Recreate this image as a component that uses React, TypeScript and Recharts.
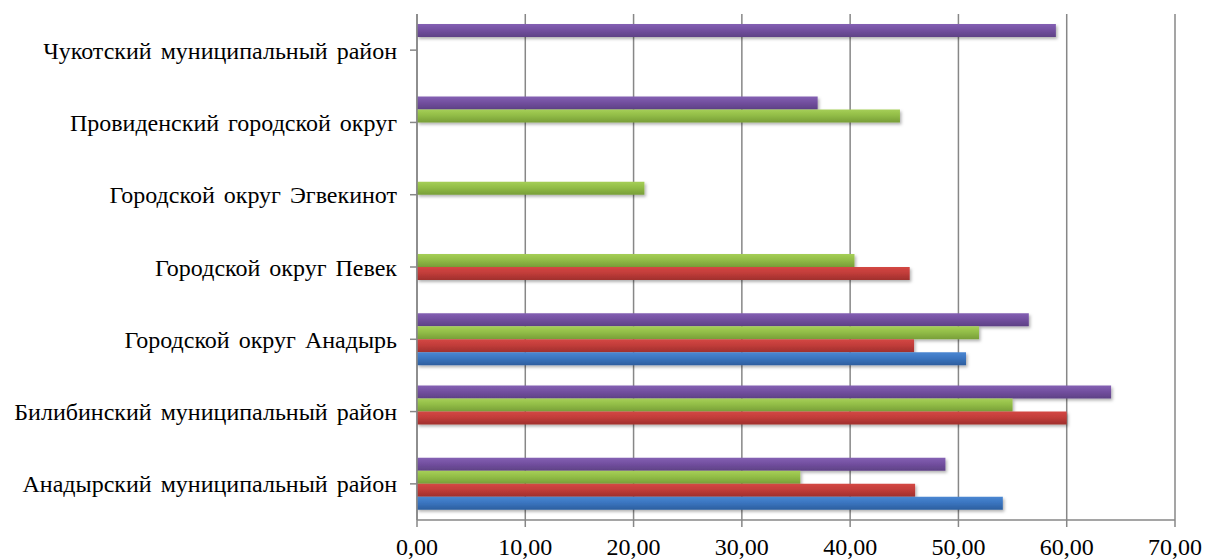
import { BarChart, Bar, XAxis, YAxis, CartesianGrid } from 'recharts';

// districts, top to bottom as in the picture
const categories = [
  'Чукотский муниципальный район',
  'Провиденский городской округ',
  'Городской округ Эгвекинот',
  'Городской округ Певек',
  'Городской округ Анадырь',
  'Билибинский муниципальный район',
  'Анадырский муниципальный район',
];

// null = no bar for that district
const purpleValues = [59.0, 37.0, null, null, 56.5, 64.1, 48.8];
const greenValues = [null, 44.6, 21.0, 40.4, 51.9, 55.0, 35.4];
const redValues = [null, null, null, 45.5, 45.9, 60.0, 46.0];
const blueValues = [null, null, null, null, 50.7, null, 54.1];

const xTicks = [0, 10, 20, 30, 40, 50, 60, 70];

const data = categories.map((name, i) => ({
  name,
  purple: purpleValues[i],
  green: greenValues[i],
  red: redValues[i],
  blue: blueValues[i],
}));

const font = '"Times New Roman", "Liberation Serif", serif';

const fmt = (v: number) => v.toFixed(2).replace('.', ',');

// light top edge to darker bottom edge, like the office-style bars
const gradients = [
  { id: 'gPurple', top: '#8460b3', mid: '#7350a0', bottom: '#5e4185' },
  { id: 'gGreen', top: '#a6cf57', mid: '#92bd47', bottom: '#789e38' },
  { id: 'gRed', top: '#d44744', mid: '#c23d3a', bottom: '#9f2f2d' },
  { id: 'gBlue', top: '#4a87d2', mid: '#3b75c0', bottom: '#2c5e9e' },
];

export default function App() {
  return (
    <div style={{ position: 'absolute', left: 0, top: 0, background: '#fff' }}>
      <BarChart
        width={1205}
        height={560}
        data={data}
        layout="vertical"
        margin={{ top: 14, right: 30, bottom: 0, left: 0 }}
        barCategoryGap="14%"
        barGap={0}
      >
        <defs>
          {gradients.map((g) => (
            <linearGradient key={g.id} id={g.id} x1="0" y1="0" x2="0" y2="1">
              <stop offset="0%" stopColor={g.top} />
              <stop offset="45%" stopColor={g.mid} />
              <stop offset="100%" stopColor={g.bottom} />
            </linearGradient>
          ))}
          <filter id="shadow" x="-5%" y="-30%" width="110%" height="170%">
            <feDropShadow dx="1.5" dy="2" stdDeviation="1.5" floodColor="#000" floodOpacity="0.3" />
          </filter>
        </defs>
        <CartesianGrid horizontal={false} stroke="#878787" strokeWidth={1.5} />
        <XAxis
          type="number"
          domain={[0, 70]}
          ticks={xTicks}
          tickFormatter={fmt}
          height={40}
          stroke="#878787"
          strokeWidth={1.5}
          tickSize={7}
          tickMargin={11}
          tick={{ fill: '#000', fontSize: 24, fontFamily: font }}
          interval={0}
        />
        <YAxis
          type="category"
          dataKey="name"
          width={417}
          stroke="#878787"
          strokeWidth={1.5}
          tickSize={7}
          tickMargin={13}
          tick={{ fill: '#000', fontSize: 24, fontFamily: font, wordSpacing: 3 }}
          interval={0}
        />
        <Bar dataKey="purple" fill="url(#gPurple)" filter="url(#shadow)" isAnimationActive={false} />
        <Bar dataKey="green" fill="url(#gGreen)" filter="url(#shadow)" isAnimationActive={false} />
        <Bar dataKey="red" fill="url(#gRed)" filter="url(#shadow)" isAnimationActive={false} />
        <Bar dataKey="blue" fill="url(#gBlue)" filter="url(#shadow)" isAnimationActive={false} />
      </BarChart>
    </div>
  );
}
